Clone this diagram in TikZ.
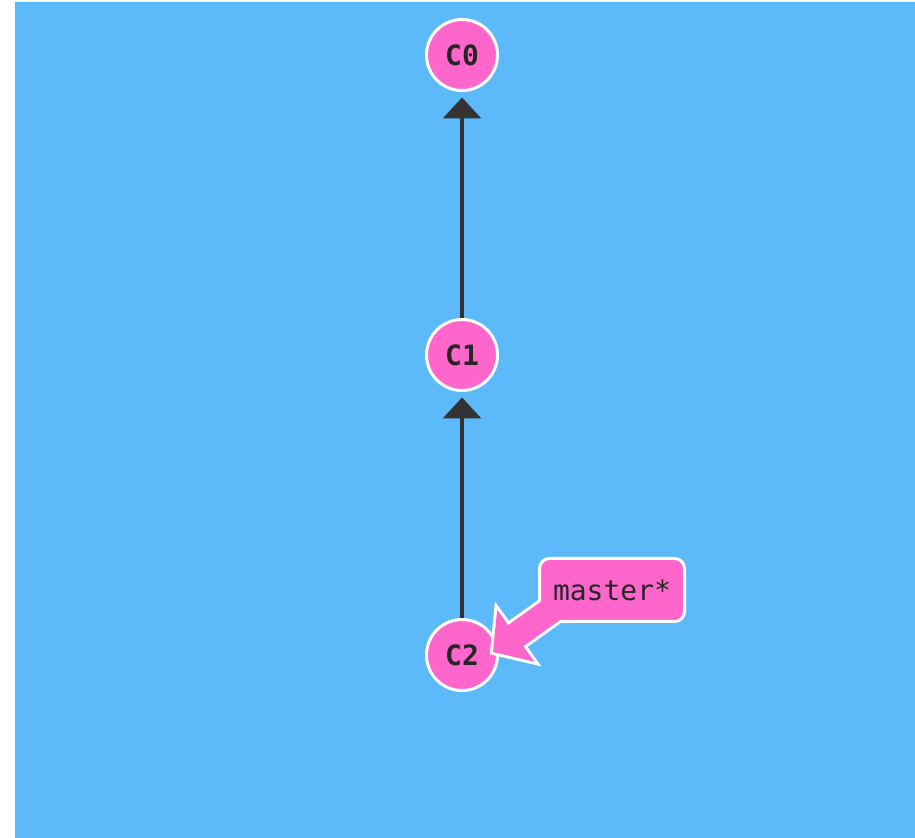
\documentclass[tikz,border=0pt]{standalone}
\usepackage{fontspec}
\setmonofont{DejaVu Sans Mono}
\usetikzlibrary{arrows.meta,calc}

\definecolor{gitbg}{RGB}{92,186,250}
\definecolor{gitpink}{RGB}{255,102,204}
\definecolor{gitdark}{RGB}{51,51,51}

\begin{document}
\begin{tikzpicture}[
  x=0.5pt, y=-0.5pt,
  commit/.style={circle, draw=white, line width=1.5pt, fill=gitpink, minimum size=35.5pt, inner sep=0pt,
    text=black!85, font=\ttfamily\bfseries\fontsize{14}{14}\selectfont},
  branch/.style={draw=white, line width=1.5pt, fill=gitpink, rounded corners=5pt, minimum width=72.5pt,
    minimum height=31.5pt, inner sep=0pt, text=black!85, font=\ttfamily\fontsize{14}{14}\selectfont},
  parent/.style={gitdark, line width=1.6pt, -{Triangle[width=19pt,length=10.5pt]}, shorten >=2.75pt},
  flagrim/.style={draw=white, fill=gitpink, line width=3pt, line join=miter},
  flag/.style={fill=gitpink},
  flagshape/.style={insert path={
    (flagtip) -- ($(flagtip)!21.26pt!48.8:(flagtail)$) -- ($(flagtip)!15.44pt!24.9:(flagtail)$)
    -- ($(flagtail)!6.5pt!-90:(flagtip)$) -- ($(flagtail)!6.5pt!90:(flagtip)$)
    -- ($(flagtip)!15.44pt!-24.9:(flagtail)$) -- ($(flagtip)!21.26pt!-48.8:(flagtail)$) -- cycle}}
]

\useasboundingbox (0,0) rectangle (915,838);
\fill[gitbg] (15,2) rectangle (915,838);

% commits, oldest on top
\node[commit] (c0) at (462,55) {C0};
\node[commit] (c1) at (462,355) {C1};
\node[commit] (c2) at (462,655) {C2};

\draw[parent] (c1) -- (c0);
\draw[parent] (c2) -- (c1);

% branch flag pointing at C2
\coordinate (flagtip) at ($(c2.center)+(31,-3)$);
\coordinate (flagtail) at ($(flagtip)+(60,-43)$);

\path[flagrim, flagshape];
\node[branch] (master) at (612,590) {master*};
\path[flag, flagshape];

\end{tikzpicture}
\end{document}
